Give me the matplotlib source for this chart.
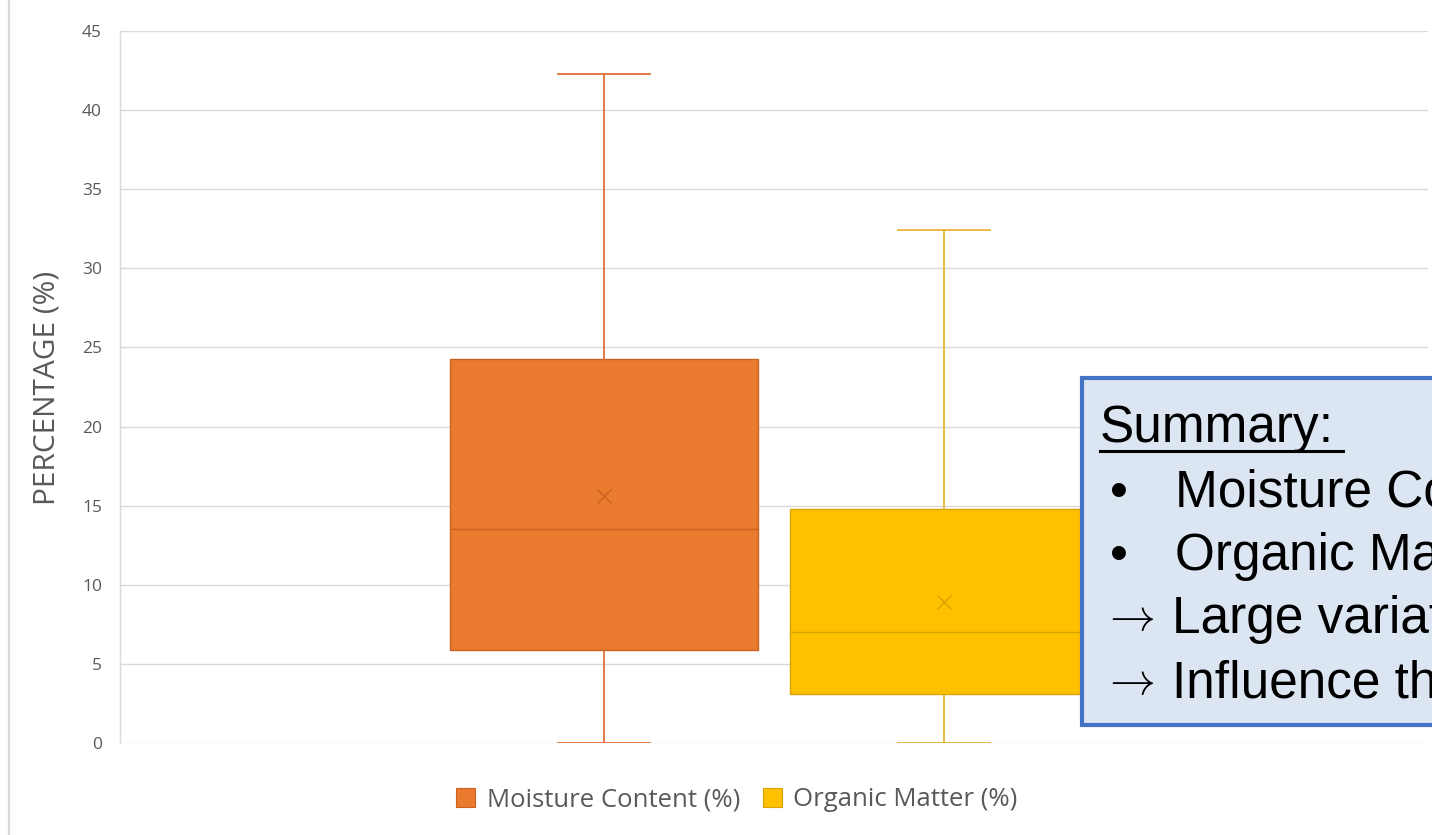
import matplotlib
matplotlib.use("Agg")
import matplotlib.pyplot as plt
from matplotlib.patches import Patch, Rectangle
from matplotlib.lines import Line2D

# box statistics per soil property
categories = ["Moisture Content (%)", "Organic Matter (%)"]
whisker_low = [0.0, 0.0]
q1 = [5.9, 3.1]
median = [13.5, 7.0]
q3 = [24.3, 14.8]
whisker_high = [42.3, 32.4]
mean = [15.6, 8.9]

face_colors = ["#E97A2E", "#FFC000"]
edge_colors = ["#C9631F", "#D9A300"]
line_colors = ["#E2703A", "#E8B33A"]

y_ticks = [0, 5, 10, 15, 20, 25, 30, 35, 40, 45]

summary_lines = [
    ("\u2022", "Moisture Content"),
    ("\u2022", "Organic Matter"),
    (r"$\rightarrow$", "Large variation"),
    (r"$\rightarrow$", "Influence the results"),
]

W, H = 1432, 835
fig = plt.figure(figsize=(W / 100, H / 100), dpi=100)
fig.patch.set_facecolor("white")


def fx(px):
    return px / W


def fy(py):
    return 1 - py / H


ax = fig.add_axes([fx(120), fy(743), fx(1428) - fx(120), fy(31) - fy(743)])

stats = []
for i, name in enumerate(categories):
    stats.append(dict(label=name, whislo=whisker_low[i], q1=q1[i], med=median[i],
                      q3=q3[i], whishi=whisker_high[i], mean=mean[i], fliers=[]))

positions = [0.370, 0.630]
bp = ax.bxp(stats, positions=positions, widths=0.2355, capwidths=0.0703,
            patch_artist=True, showmeans=True, showfliers=False)

for i in range(len(categories)):
    box = bp["boxes"][i]
    box.set_facecolor(face_colors[i])
    box.set_edgecolor(edge_colors[i])
    box.set_linewidth(1.0)
    box.set_zorder(3)
    bp["medians"][i].set(color=edge_colors[i], linewidth=1.0, zorder=4)
    for ln in bp["whiskers"][2 * i:2 * i + 2] + bp["caps"][2 * i:2 * i + 2]:
        ln.set(color=line_colors[i], linewidth=1.3, zorder=2)
    bp["means"][i].set(marker="x", markersize=10, markeredgewidth=1.0,
                       markeredgecolor=edge_colors[i], zorder=4)

ax.set_xlim(0, 1)
ax.set_ylim(0, 45)
ax.set_yticks(y_ticks)
ax.set_xticks([])
ax.yaxis.grid(True, color="#d9d9d9", linewidth=1.0)
ax.set_axisbelow(True)
ax.tick_params(axis="y", length=0, pad=13, labelsize=12.5, labelcolor="#595959")
for lab in ax.get_yticklabels():
    lab.set_fontfamily("Open Sans")
for side in ["top", "right", "bottom"]:
    ax.spines[side].set_visible(False)
ax.spines["left"].set_color("#d9d9d9")
ax.spines["left"].set_linewidth(1.0)

fig.text(fx(47), fy(388), "PERCENTAGE (%)", rotation=90, ha="center", va="center",
         fontsize=21.5, color="#595959", family="Open Sans")

handles = [Patch(facecolor=face_colors[i], edgecolor=edge_colors[i], linewidth=0.8)
           for i in range(len(categories))]
fig.legend(handles, categories, loc="center", bbox_to_anchor=(fx(737), fy(800)),
           ncol=2, frameon=False, handlelength=0.72, handleheight=0.72,
           handletextpad=0.45, columnspacing=0.9,
           prop={"family": "Open Sans", "size": 18.5}, labelcolor="#595959")

# outer chart border on the left
fig.add_artist(Line2D([fx(9), fx(9)], [0, 1], color="#d9d9d9", linewidth=1.6))

# summary call-out box
fig.add_artist(Rectangle((fx(1082), fy(725)), fx(1440) - fx(1082), fy(378) - fy(725),
                         transform=fig.transFigure, facecolor="#DCE6F3",
                         edgecolor="#4472C4", linewidth=3.0, zorder=5, clip_on=False))

txt_font = ["Liberation Sans", "DejaVu Sans"]
fig.text(fx(1100), fy(442), "Summary:", fontsize=37, family=txt_font,
         va="baseline", ha="left", zorder=6)
fig.add_artist(Line2D([fx(1100), fx(1343)], [fy(451), fy(451)], color="black",
                      linewidth=2.2, zorder=6))

baselines = [507, 570, 633, 697]
for (sym, words), base in zip(summary_lines, baselines):
    if sym == "\u2022":
        fig.text(fx(1110), fy(base), sym, fontsize=37, family=txt_font,
                 va="baseline", ha="left", zorder=6)
        fig.text(fx(1175), fy(base), words, fontsize=37, family=txt_font,
                 va="baseline", ha="left", zorder=6)
    else:
        fig.text(fx(1101), fy(base - 3), sym, fontsize=33, math_fontfamily="cm",
                 va="baseline", ha="left", zorder=6)
        fig.text(fx(1172), fy(base), words, fontsize=37, family=txt_font,
                 va="baseline", ha="left", zorder=6)

fig.savefig("out.png", dpi=100)
